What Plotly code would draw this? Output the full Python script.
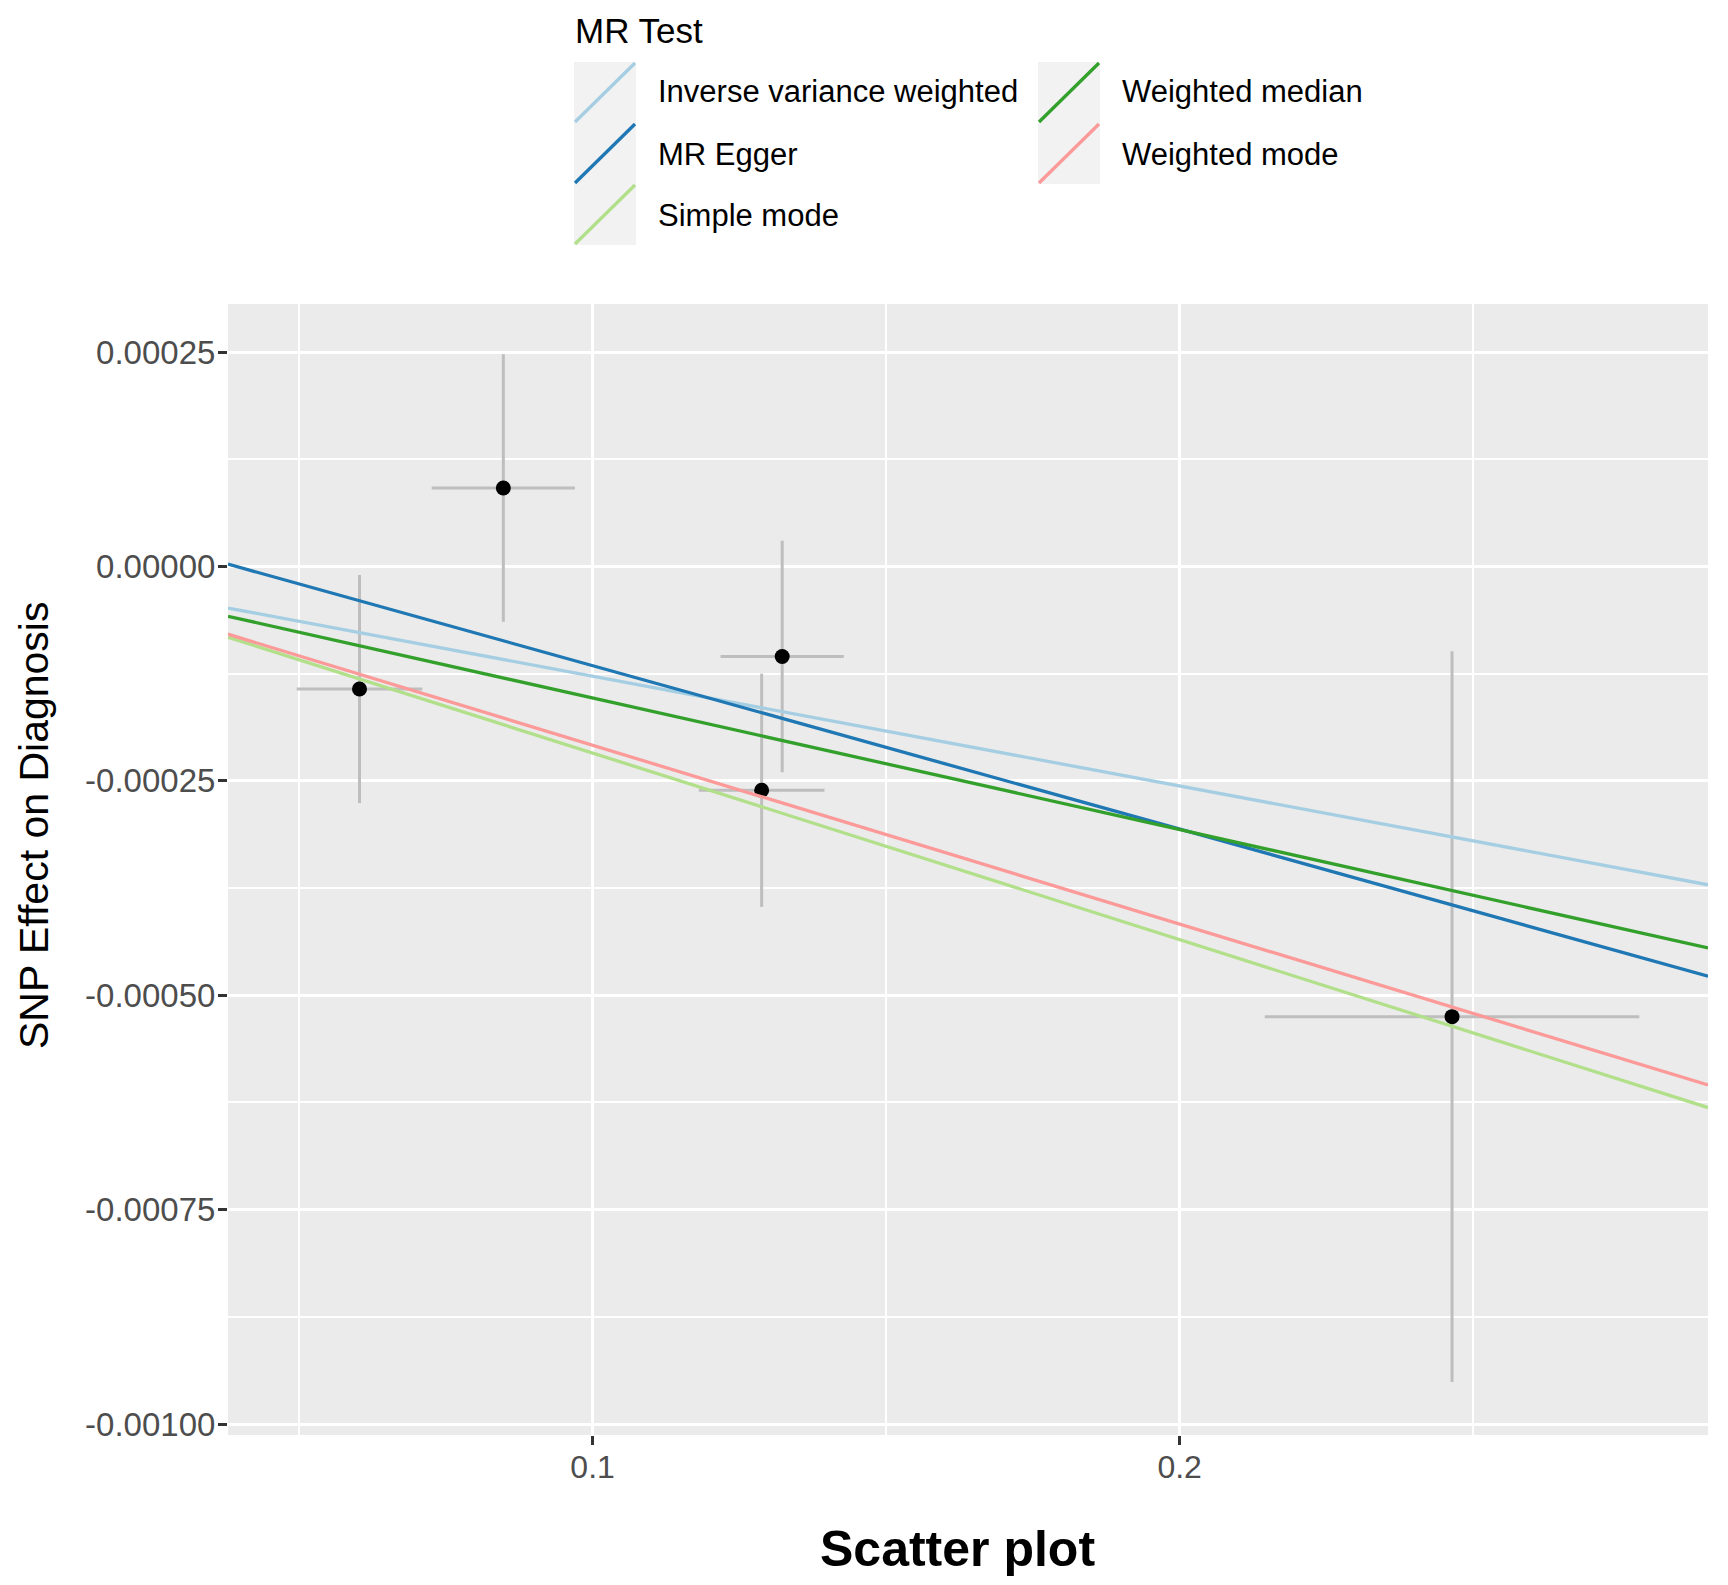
import plotly.graph_objects as go

# SNP effects (exposure = x, outcome = y) with standard errors
snp_beta_exp = [0.0603, 0.0848, 0.1323, 0.1288, 0.2464]
snp_se_exp = [0.0107, 0.0122, 0.0105, 0.0107, 0.0319]
snp_beta_out = [-0.000143, 0.0000914, -0.000105, -0.000261, -0.000525]
snp_se_out = [0.000133, 0.000156, 0.000135, 0.000136, 0.000426]

# MR methods: name, intercept, slope, colour
methods = ["Inverse variance weighted", "MR Egger", "Simple mode",
           "Weighted median", "Weighted mode"]
intercepts = [0.0, 0.0000749, 0.0, 0.0, 0.0]
slopes = [-0.00128, -0.001906, -0.002176, -0.001534, -0.002085]
colors = ["#A6CEE3", "#1F78B4", "#B2DF8A", "#33A02C", "#FB9A99"]

y_tick_vals = [0.00025, 0.0, -0.00025, -0.0005, -0.00075, -0.001]
y_tick_text = ["0.00025", "0.00000", "-0.00025", "-0.00050", "-0.00075", "-0.00100"]
x_tick_vals = [0.1, 0.2]
x_tick_text = ["0.1", "0.2"]

# page body has an 8px margin, so the figure is a bit smaller than the window
OFF = 8
W, H = 1712, 1569
ML, MR, MT, MB = 220, 12, 296, 142
PW, PH = W - ML - MR, H - MT - MB
x_range = [0.0379, 0.2900]
y_range = [-0.0010128, 0.000306]

FONT = "Liberation Sans, Arial, Helvetica, sans-serif"


def px(x):
    # page pixel -> paper coordinate
    return (x - OFF - ML) / PW


def py(y):
    return (H - MB - (y - OFF)) / PH


fig = go.Figure()

fig.add_trace(go.Scatter(
    x=snp_beta_exp, y=snp_beta_out, mode="markers",
    marker=dict(color="black", size=15),
    error_x=dict(type="data", array=snp_se_exp, color="#BEBEBE", thickness=3, width=0),
    error_y=dict(type="data", array=snp_se_out, color="#BEBEBE", thickness=3, width=0),
    showlegend=False, hoverinfo="skip"))

for name, a, b, c in zip(methods, intercepts, slopes, colors):
    xs = list(x_range)
    fig.add_trace(go.Scatter(
        x=xs, y=[a + b * v for v in xs], mode="lines", name=name,
        line=dict(color=c, width=3.3), showlegend=False))

# hand-built legend (ggplot style keys, two columns)
shapes = []
annotations = []
rows = [62, 123, 184]
label_y = [92, 154, 216]
key_pos = [(574, 0), (574, 1), (574, 2), (1038, 0), (1038, 1)]
for (kx, r), name, c in zip(key_pos, methods, colors):
    ky = rows[r]
    shapes.append(dict(type="rect", xref="paper", yref="paper",
                       x0=px(kx), x1=px(kx + 62), y0=py(ky + 61), y1=py(ky),
                       fillcolor="#F2F2F2", line=dict(width=0), layer="below"))
    shapes.append(dict(type="line", xref="paper", yref="paper",
                       x0=px(kx + 1), x1=px(kx + 61), y0=py(ky + 60), y1=py(ky + 1),
                       line=dict(color=c, width=3.3)))
    annotations.append(dict(text=name, xref="paper", yref="paper",
                            x=px(kx + 82), y=py(label_y[r]), xanchor="left", yanchor="middle",
                            showarrow=False, font=dict(family=FONT, size=31, color="black")))

annotations.append(dict(text="MR Test", xref="paper", yref="paper",
                        x=px(573), y=py(8.5), xanchor="left", yanchor="top",
                        showarrow=False, font=dict(family=FONT, size=35, color="black")))
annotations.append(dict(text="SNP Effect on Diagnosis", xref="paper", yref="paper",
                        x=px(9), y=py(826), xanchor="left", yanchor="middle", textangle=-90,
                        showarrow=False, font=dict(family=FONT, size=41, color="black")))
annotations.append(dict(text="<b>Scatter plot</b>", xref="paper", yref="paper",
                        x=px(957), y=py(1549), xanchor="center", yanchor="middle",
                        showarrow=False, font=dict(family=FONT, size=50, color="black")))

fig.update_layout(
    width=W, height=H,
    margin=dict(l=ML, r=MR, t=MT, b=MB),
    paper_bgcolor="white", plot_bgcolor="#EBEBEB",
    font=dict(family=FONT),
    shapes=shapes, annotations=annotations,
    showlegend=False,
)

fig.update_xaxes(
    range=x_range, tickmode="array", tickvals=x_tick_vals, ticktext=x_tick_text,
    showgrid=True, gridcolor="white", gridwidth=3, zeroline=False,
    ticks="outside", ticklen=9, tickwidth=2.5, tickcolor="#333333",
    tickfont=dict(family=FONT, size=32, color="#4D4D4D"), ticklabelstandoff=-5,
    minor=dict(tickmode="linear", tick0=0.05, dtick=0.1, showgrid=True,
               gridcolor="white", gridwidth=1.5, ticks=""),
    showline=False,
)
fig.update_yaxes(
    range=y_range, tickmode="array", tickvals=y_tick_vals, ticktext=y_tick_text,
    showgrid=True, gridcolor="white", gridwidth=3, zeroline=False,
    ticks="outside", ticklen=9, tickwidth=2.5, tickcolor="#333333",
    tickfont=dict(family=FONT, size=33, color="#4D4D4D"), ticklabelstandoff=-4,
    minor=dict(tickmode="linear", tick0=0.000125, dtick=0.00025, showgrid=True,
               gridcolor="white", gridwidth=1.5, ticks=""),
    showline=False,
)

fig.write_html("out.html")
